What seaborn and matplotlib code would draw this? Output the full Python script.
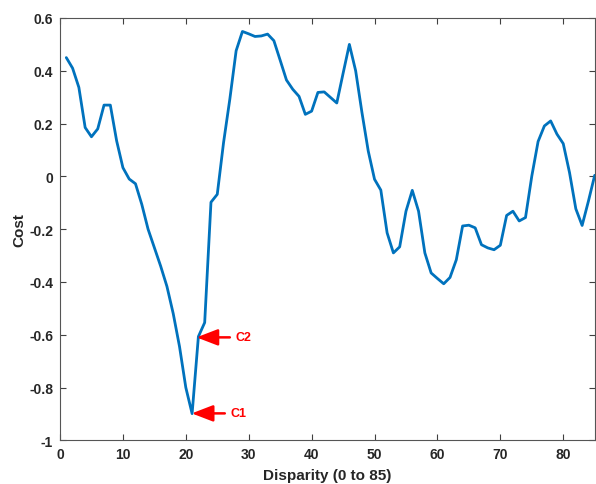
import matplotlib
matplotlib.use("Agg")
import matplotlib.pyplot as plt
import seaborn as sns
import pandas as pd

disparity = list(range(1, 86))
cost = [0.45, 0.41, 0.337, 0.185, 0.15, 0.18, 0.27, 0.27, 0.135, 0.033,
        -0.01, -0.028, -0.106, -0.2, -0.27, -0.34, -0.417, -0.52, -0.645, -0.80,
        -0.899, -0.607, -0.554, -0.098, -0.068, 0.128, 0.293, 0.476, 0.549, 0.54,
        0.53, 0.532, 0.539, 0.514, 0.44, 0.365, 0.33, 0.303, 0.235, 0.247,
        0.318, 0.32, 0.299, 0.278, 0.39, 0.50, 0.40, 0.242, 0.096, -0.011,
        -0.052, -0.214, -0.29, -0.267, -0.132, -0.053, -0.132, -0.29, -0.366, -0.387,
        -0.407, -0.383, -0.316, -0.188, -0.185, -0.195, -0.259, -0.271, -0.278, -0.261,
        -0.148, -0.132, -0.169, -0.156, 0.001, 0.132, 0.191, 0.21, 0.16, 0.124,
        0.014, -0.123, -0.186, -0.094, 0.004]

xticks = [0, 10, 20, 30, 40, 50, 60, 70, 80]
yticks = [-1, -0.8, -0.6, -0.4, -0.2, 0, 0.2, 0.4, 0.6]
ytick_labels = ["-1", "-0.8", "-0.6", "-0.4", "-0.2", "0", "0.2", "0.4", "0.6"]

# annotations: label, arrow tip (x, y), arrow tail x
ann_labels = ["C1", "C2"]
ann_tip = [(20.94, -0.898), (21.7, -0.61)]
ann_tail_x = [26.2, 27.0]

sns.set_style("ticks")
plt.rcParams["font.family"] = ["Liberation Sans", "DejaVu Sans"]
plt.rcParams["font.weight"] = "bold"

txt = "#262626"
fig = plt.figure(figsize=(5.96, 4.85), dpi=100)
ax = fig.add_axes([60 / 596, 1 - 441.3 / 485, (594.7 - 60) / 596, (441.3 - 19) / 485])

df = pd.DataFrame({"Disparity": disparity, "Cost": cost})
sns.lineplot(data=df, x="Disparity", y="Cost", ax=ax, color="#0072BD", linewidth=2.0)

ax.set_xlim(0, 85)
ax.set_ylim(-1, 0.6)
ax.set_xticks(xticks)
ax.set_xticklabels([str(t) for t in xticks])
ax.set_yticks(yticks)
ax.set_yticklabels(ytick_labels)
ax.tick_params(axis="both", direction="in", length=4.5, width=0.8, color="#404040",
               labelsize=10, labelcolor=txt, pad=5, top=True, right=True)
for lab in ax.get_xticklabels() + ax.get_yticklabels():
    lab.set_fontweight("bold")
for s in ax.spines.values():
    s.set_visible(True)
    s.set_color("#555555")
    s.set_linewidth(0.8)

ax.set_xlabel("Disparity (0 to 85)", fontsize=11, fontweight="bold", color=txt, labelpad=5)
ax.set_ylabel("Cost", fontsize=11, fontweight="bold", color=txt, labelpad=2)

for lab, (tx, ty), ex in zip(ann_labels, ann_tip, ann_tail_x):
    ax.annotate("", xy=(tx, ty), xytext=(ex, ty),
                arrowprops=dict(arrowstyle="-|>,head_length=0.65,head_width=0.25",
                                color="red", lw=1.8, mutation_scale=20,
                                shrinkA=0, shrinkB=0))
    ax.text(ex + 0.9, ty, lab, color="red", fontsize=9, fontweight="bold",
            ha="left", va="center")

fig.savefig("out.png", dpi=100)
